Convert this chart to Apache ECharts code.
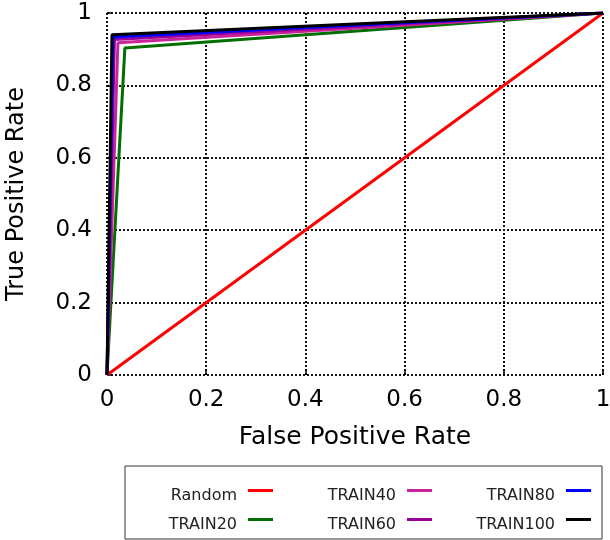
<!DOCTYPE html>
<html>
<head>
<meta charset="utf-8">
<script src="https://cdn.jsdelivr.net/npm/echarts@6/dist/echarts.min.js"></script>
<style>html,body{margin:0;padding:0;background:#fff;}#c{width:610px;height:540px;}</style>
</head>
<body>
<div id="c"></div>
<script>
const seriesNames = ['Random', 'TRAIN20', 'TRAIN40', 'TRAIN60', 'TRAIN80', 'TRAIN100'];
const seriesColors = ['#ff0000', '#006f00', '#cc2299', '#990099', '#0000ff', '#000000'];
const randomPts = [[0, 0], [1, 1]];
const train20Pts = [[0, 0], [0.036, 0.903], [1, 1]];
const train40Pts = [[0, 0], [0.022, 0.918], [1, 1]];
const train60Pts = [[0, 0], [0.015, 0.927], [1, 1]];
const train80Pts = [[0, 0], [0.012, 0.934], [1, 1]];
const train100Pts = [[0, 0], [0.010, 0.940], [1, 1]];
const allPts = [randomPts, train20Pts, train40Pts, train60Pts, train80Pts, train100Pts];
const legendOrder = ['Random', 'TRAIN40', 'TRAIN80', 'TRAIN20', 'TRAIN60', 'TRAIN100'];
const tickLabels = ['0', '0.2', '0.4', '0.6', '0.8', '1'];

const font = 'DejaVu Sans';
const gridLine = { show: true, lineStyle: { color: '#111', width: 2, type: [2, 2] } };

const chart = echarts.init(document.getElementById('c'));
chart.setOption({
  animation: false,
  grid: { left: 107, right: 7, top: 13, bottom: 165, containLabel: false, outerBoundsMode: 'none' },
  xAxis: {
    type: 'value', min: 0, max: 1, interval: 0.2,
    name: 'False Positive Rate', nameLocation: 'middle', nameGap: 50,
    nameTextStyle: { fontFamily: font, fontSize: 25, color: '#000' },
    axisLine: { show: false },
    axisTick: { show: true, inside: true, length: 5, lineStyle: { color: '#000', width: 1.5 } },
    axisLabel: { fontFamily: font, fontSize: 23, color: '#000', margin: 14,
      formatter: v => tickLabels[Math.round(v * 5)] },
    splitLine: gridLine
  },
  yAxis: {
    type: 'value', min: 0, max: 1, interval: 0.2,
    name: 'True Positive Rate', nameLocation: 'middle', nameGap: 78,
    nameTextStyle: { fontFamily: font, fontSize: 24, color: '#000' },
    axisLine: { show: false },
    axisTick: { show: true, inside: true, length: 5, lineStyle: { color: '#000', width: 1.5 } },
    axisLabel: { fontFamily: font, fontSize: 23, color: '#000', margin: 15,
      formatter: v => tickLabels[Math.round(v * 5)] },
    splitLine: gridLine
  },
  legend: {
    data: legendOrder,
    left: 125, top: 466,
    width: 470,
    padding: [22, 11, 6, 2],
    itemGap: 13,
    itemWidth: 25, itemHeight: 14,
    icon: 'path://M0,14L0,14M0,0L25,0L25,3L0,3Z',
    align: 'right',
    borderColor: '#333', borderWidth: 1,
    formatter: n => '{t|' + n + '}',
    textStyle: {
      fontFamily: font, fontSize: 16, color: '#222',
      rich: { t: { fontFamily: font, fontSize: 16, color: '#222', width: 110, align: 'right', padding: [0, 6, 0, 0], lineHeight: 18 } }
    }
  },
  series: seriesNames.map((n, i) => ({
    name: n, type: 'line', data: allPts[i], symbol: 'none',
    color: seriesColors[i],
    lineStyle: { width: 3, color: seriesColors[i] },
    z: 2 + i
  }))
});
</script>
</body>
</html>
